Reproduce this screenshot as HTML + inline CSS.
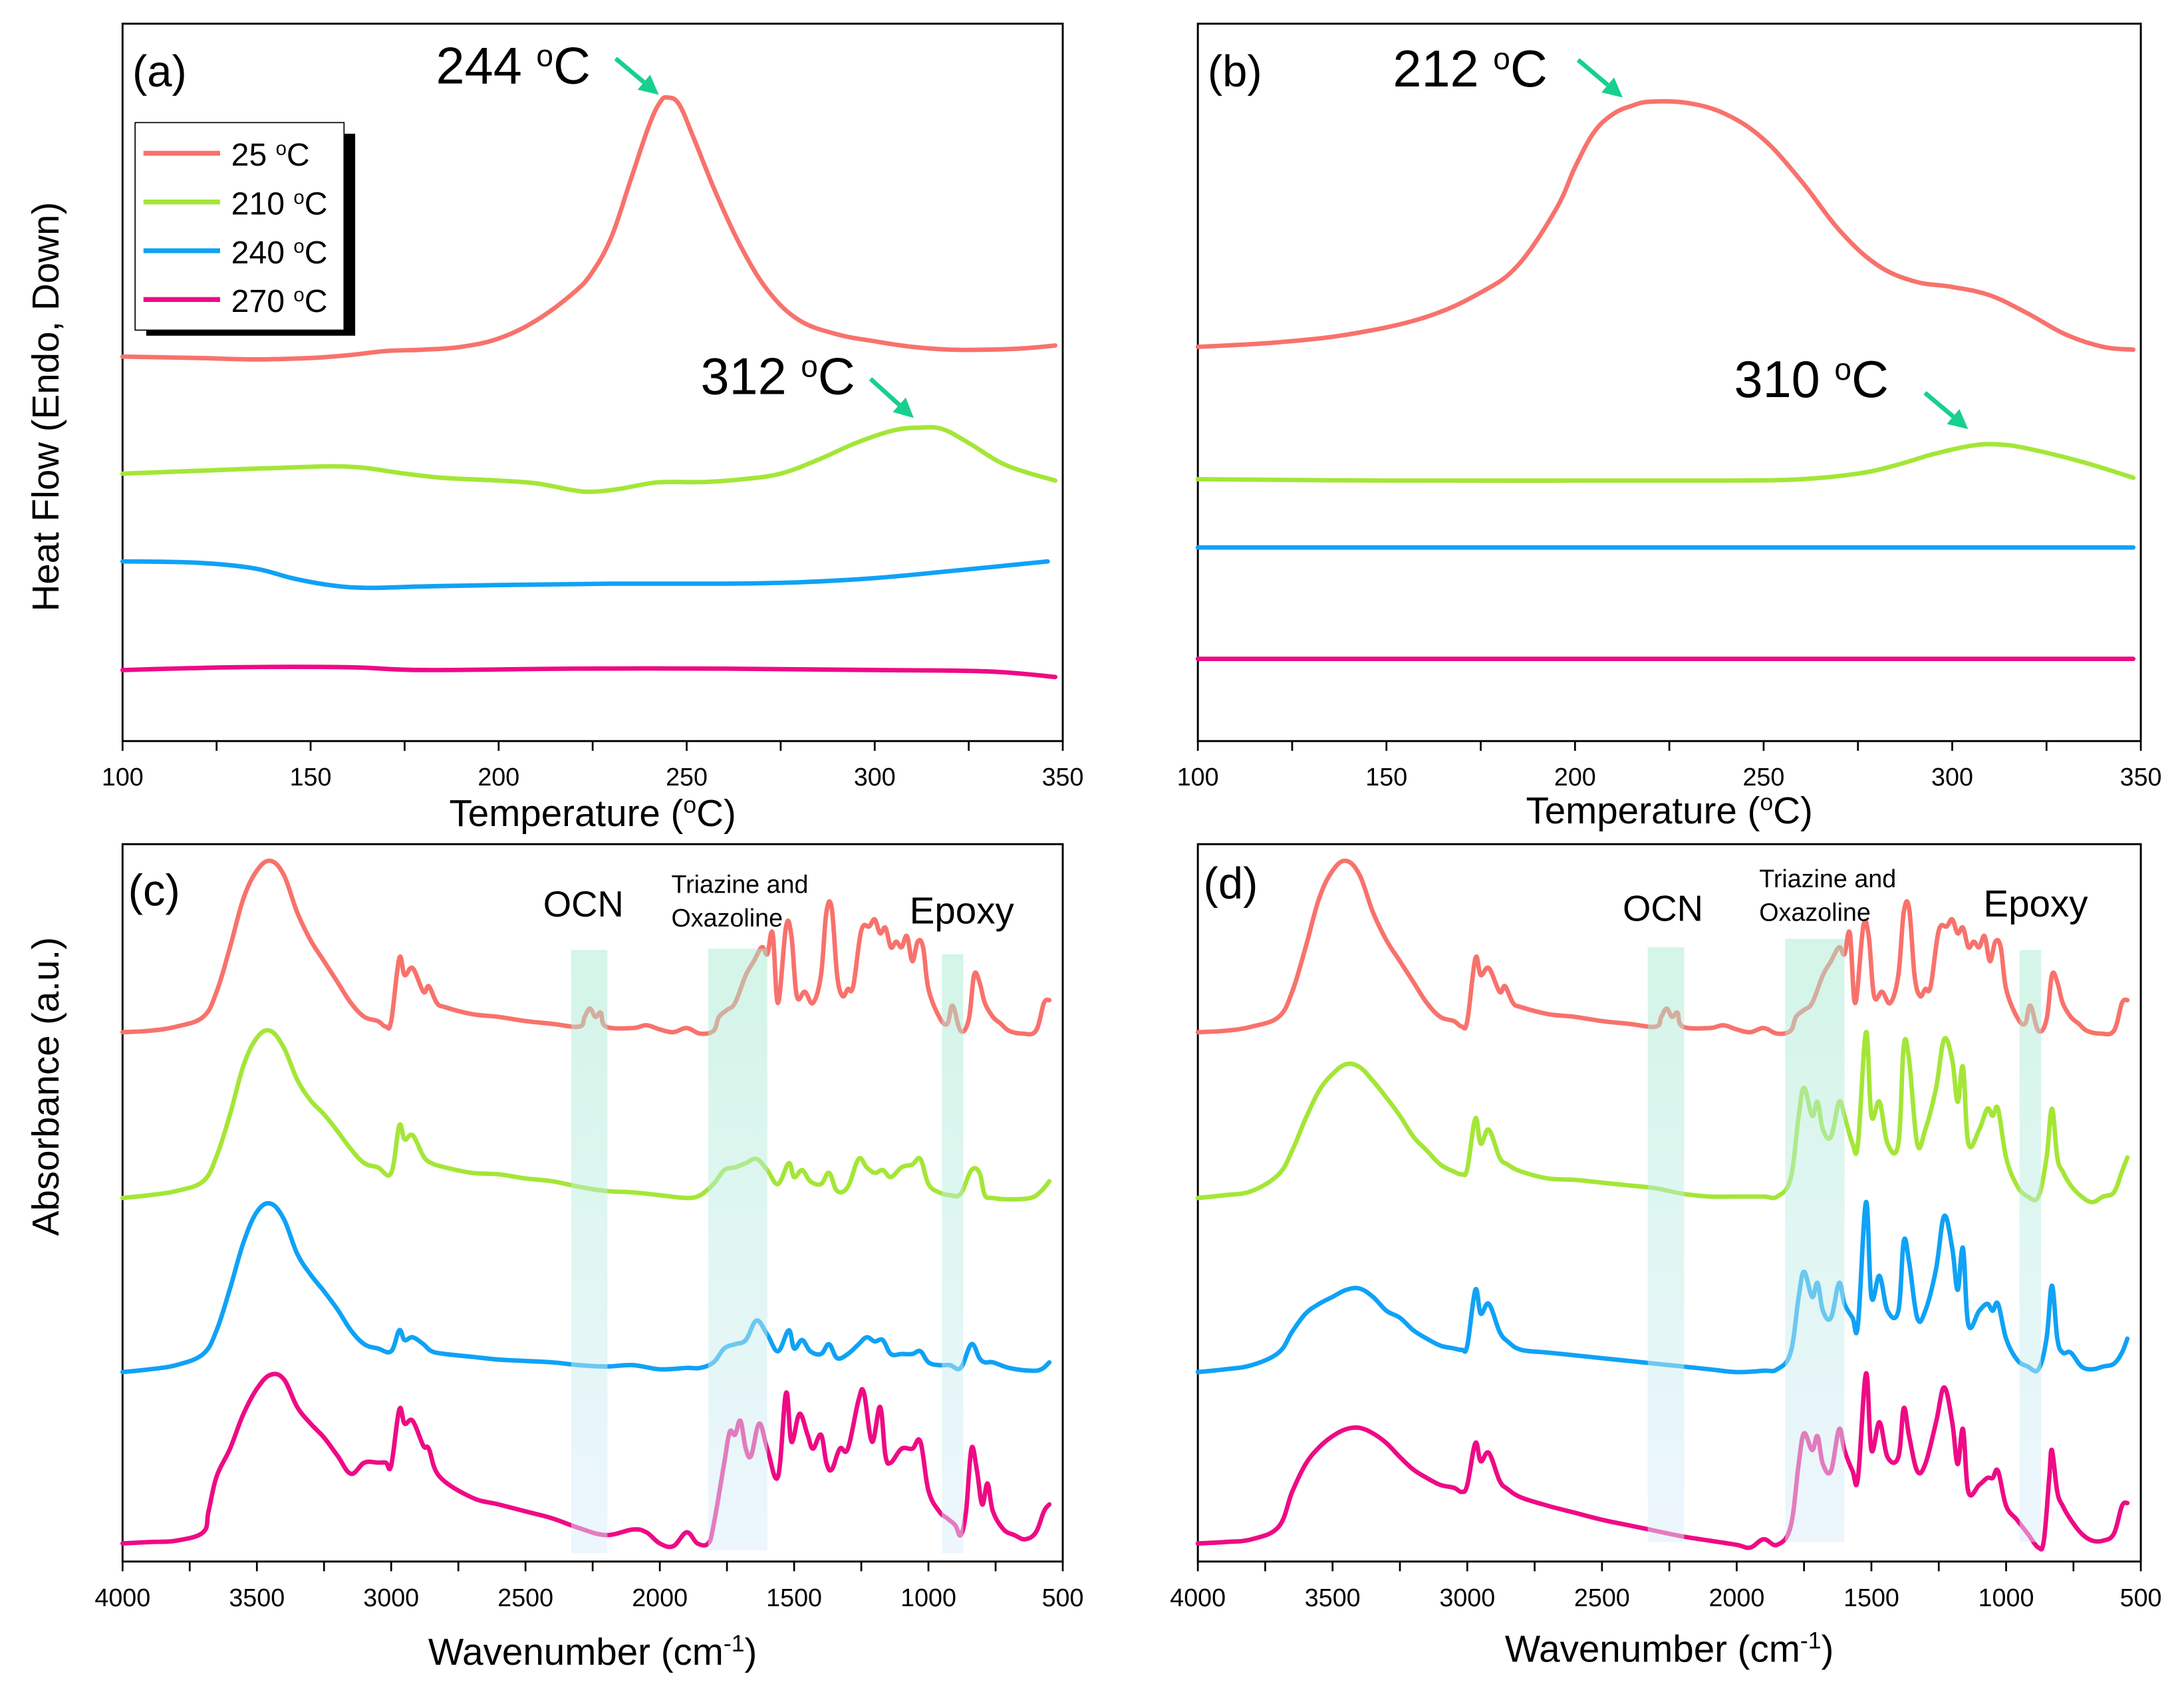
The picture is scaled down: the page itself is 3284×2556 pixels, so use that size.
<!DOCTYPE html>
<html><head><meta charset="utf-8">
<style>
html,body{margin:0;padding:0;background:#fff;}
svg{display:block;}
text{font-family:"Liberation Sans",sans-serif;fill:#000;}
.n{font-family:"Liberation Sans Narrow","Liberation Sans",sans-serif;}
</style></head>
<body>
<svg id="fig" width="3284" height="2556" viewBox="0 0 1568 1220.4" xmlns="http://www.w3.org/2000/svg">
<defs>
<linearGradient id="band" x1="0" y1="0" x2="0" y2="1">
<stop offset="0" stop-color="#a8ebd0"/><stop offset="1" stop-color="#dbeefc"/>
</linearGradient>
</defs>
</svg>
<script>
// ---------- DATA ----------
const dscTemp = [100,350];
const aRed = [[100,276],[120,275],[135,274],[150,275],[160,277],[170,280],[180,281],[190,283],[200,289],[210,302],[220,322],[225,337],[230,362],[235,402],[240,442],[243,459],[245,462],[248,457],[252,432],[258,392],[265,352],[272,322],[280,302],[290,292],[300,287],[310,283],[320,281],[330,281],[340,282],[348,284]];
const aGreen = [[100,192],[120,194],[140,196],[160,197],[175,192],[185,189],[200,187],[210,185],[220,180],[225,179],[232,181],[240,185],[245,186],[255,186],[265,188],[275,192],[285,202],[295,214],[305,223],[312,225],[318,224],[325,214],[335,198],[348,187]];
const aBlue = [[100,129],[120,128],[135,124],[145,117],[155,112],[165,110],[180,111],[200,112],[230,113],[260,113],[280,114],[300,117],[320,122],[335,126],[346,129]];
const aPink = [[100,51],[130,53],[160,53],[180,51],[220,52],[260,52],[300,51],[330,50],[348,46]];
const bRed = [[100,283],[120,286],[140,292],[160,304],[175,322],[185,342],[195,382],[200,412],[205,437],[210,450],[215,456],[220,459],[230,458],[240,450],[250,432],[260,402],[270,367],[280,342],[290,330],[300,326],[310,320],[320,307],[330,292],[340,283],[348,281]];
const bGreen = [[100,188],[150,187],[200,187],[240,187],[260,188],[275,192],[285,198],[295,206],[305,212],[312,213],[320,210],[335,200],[348,189]];
const bBlue = [[100,139],[200,139],[300,139],[348,139]];
const bPink = [[100,59],[200,59],[300,59],[348,59]];
const tempTicks = [100,150,200,250,300,350];

const cRed = [[4000,380],[3900,381],[3800,384],[3700,391],[3650,409],[3600,441],[3550,476],[3500,496],[3450,503],[3400,493],[3350,466],[3300,446],[3250,431],[3200,416],[3150,401],[3100,391],[3050,388],[3020,384],[3000,388],[2970,433],[2950,421],[2920,426],[2880,409],[2860,413],[2830,401],[2800,398],[2700,393],[2600,391],[2500,388],[2400,386],[2300,384],[2280,391],[2260,397],[2240,391],[2220,394],[2200,384],[2100,383],[2050,385],[2000,382],[1950,380],[1900,383],[1850,379],[1800,381],[1780,391],[1750,396],[1720,401],[1680,421],[1650,431],[1620,441],[1600,436],[1580,451],[1560,401],[1530,456],[1510,449],[1490,406],[1460,409],[1430,401],[1400,421],[1380,466],[1360,469],[1340,421],[1320,406],[1300,411],[1280,413],[1250,453],[1220,456],[1200,461],[1180,451],[1160,455],[1140,441],[1120,445],[1100,441],[1080,449],[1060,431],[1040,445],[1020,441],[1000,411],[960,391],[930,386],[910,399],[880,381],[850,389],[830,421],[810,416],[790,401],[760,391],[730,386],[700,381],[650,379],[600,381],[570,401],[550,403]];
const cGreen = [[4000,261],[3900,263],[3800,266],[3700,273],[3650,291],[3600,321],[3550,356],[3500,376],[3450,381],[3400,369],[3350,346],[3300,331],[3250,321],[3200,309],[3150,296],[3100,286],[3050,283],[3000,279],[2970,313],[2950,303],[2920,306],[2880,291],[2850,286],[2800,283],[2700,279],[2600,278],[2500,275],[2400,273],[2300,269],[2200,266],[2100,265],[2000,263],[1900,261],[1850,263],[1800,271],[1760,281],[1720,283],[1680,286],[1640,289],[1600,281],[1560,271],[1520,286],[1500,276],[1470,281],[1440,273],[1400,271],[1370,279],[1340,266],[1300,269],[1260,289],[1230,283],[1200,279],[1170,281],[1140,276],[1100,283],[1060,285],[1030,289],[1000,271],[960,265],[920,263],[880,264],[840,281],[810,279],[790,263],[760,261],[700,260],[620,261],[580,266],[550,273]];
const cBlue = [[4000,136],[3900,138],[3800,141],[3700,149],[3650,166],[3600,196],[3550,229],[3500,251],[3450,257],[3400,246],[3350,221],[3300,206],[3250,194],[3200,181],[3150,166],[3100,156],[3050,153],[3000,151],[2970,166],[2950,159],[2920,161],[2880,156],[2850,151],[2800,149],[2700,147],[2600,145],[2500,144],[2400,143],[2300,141],[2200,140],[2100,141],[2000,138],[1900,139],[1850,139],[1800,143],[1760,153],[1720,156],[1680,159],[1640,173],[1600,163],[1560,151],[1520,166],[1500,153],[1470,159],[1440,151],[1400,149],[1370,156],[1340,146],[1300,149],[1260,156],[1230,161],[1200,158],[1170,159],[1140,149],[1100,149],[1060,149],[1030,151],[1000,143],[960,141],[920,141],[880,139],[840,156],[810,146],[790,143],[760,143],[700,139],[620,137],[580,138],[550,143]];
const cPink = [[4000,13],[3900,14],[3800,15],[3700,21],[3680,36],[3650,61],[3600,81],[3550,106],[3500,124],[3450,134],[3400,131],[3350,111],[3300,99],[3250,89],[3200,76],[3150,63],[3100,71],[3050,71],[3020,71],[3000,69],[2970,109],[2950,99],[2920,101],[2880,83],[2860,81],[2820,61],[2700,46],[2600,41],[2500,36],[2400,31],[2300,24],[2200,19],[2100,23],[2050,21],[2000,13],[1950,11],[1900,21],[1860,13],[1820,13],[1800,26],[1760,71],[1740,93],[1720,91],[1700,101],[1680,81],[1660,76],[1630,99],[1600,81],[1560,61],[1530,121],[1510,86],[1480,106],[1450,91],[1430,81],[1400,91],[1380,71],[1360,66],[1330,81],[1300,81],[1260,116],[1240,121],[1210,86],[1180,111],[1160,76],[1140,71],[1100,81],[1060,81],[1030,86],[1000,51],[960,36],[930,31],[900,26],[880,19],[860,36],[840,81],[820,66],[800,41],[780,56],[760,36],[720,23],[680,19],[640,16],[600,21],[570,36],[550,41]];
const dRed = cRed;
const dGreen = [[4000,261],[3900,263],[3800,266],[3700,278],[3650,295],[3600,318],[3550,338],[3500,350],[3450,357],[3400,355],[3350,345],[3300,333],[3250,320],[3200,305],[3150,295],[3100,285],[3050,280],[3020,278],[3000,282],[2970,318],[2950,300],[2920,310],[2880,290],[2850,285],[2800,280],[2700,275],[2600,274],[2500,272],[2400,270],[2300,268],[2200,264],[2100,262],[2000,262],[1900,262],[1850,262],[1800,275],[1770,320],[1750,340],[1720,320],[1700,330],[1680,310],[1650,305],[1620,330],[1600,320],[1570,300],[1550,300],[1520,380],[1500,320],[1470,330],[1440,300],[1400,300],[1380,370],[1360,360],[1330,300],[1300,310],[1260,340],[1230,375],[1200,360],[1180,330],[1160,355],[1140,300],[1100,310],[1070,325],[1050,320],[1030,325],[1000,290],[960,270],[920,262],[880,262],[850,290],[830,325],[810,290],[790,280],[760,270],[720,262],[680,258],[640,262],[600,265],[570,280],[550,290]];
const dBlue = [[4000,136],[3900,138],[3800,141],[3700,150],[3650,165],[3600,178],[3550,185],[3500,190],[3450,195],[3400,196],[3350,190],[3300,180],[3250,175],[3200,166],[3150,160],[3100,155],[3050,153],[3020,152],[3000,155],[2970,195],[2950,178],[2920,185],[2880,165],[2850,158],[2800,152],[2700,150],[2600,148],[2500,146],[2400,144],[2300,142],[2200,140],[2100,138],[2000,136],[1900,137],[1850,138],[1800,150],[1770,190],[1750,208],[1720,190],[1700,200],[1680,180],[1650,175],[1620,200],[1600,185],[1570,175],[1550,170],[1520,258],[1500,190],[1470,205],[1440,180],[1400,180],[1380,230],[1360,215],[1330,175],[1300,180],[1260,210],[1230,248],[1200,225],[1180,195],[1160,225],[1140,170],[1100,180],[1070,185],[1050,180],[1030,185],[1000,160],[960,145],[920,140],[880,138],[850,160],[830,198],[810,160],[790,150],[760,150],[720,140],[680,138],[640,140],[600,142],[570,150],[550,160]];
const dPink = [[4000,13],[3900,14],[3800,16],[3700,25],[3650,50],[3600,70],[3550,82],[3500,90],[3450,95],[3400,96],[3350,92],[3300,85],[3250,75],[3200,66],[3150,60],[3100,55],[3050,53],[3020,50],[3000,55],[2970,85],[2950,72],[2920,78],[2880,58],[2850,52],[2800,46],[2700,40],[2600,35],[2500,30],[2400,26],[2300,22],[2200,18],[2100,15],[2000,12],[1950,10],[1900,16],[1850,12],[1800,25],[1770,70],[1750,92],[1720,80],[1700,90],[1680,70],[1650,65],[1620,95],[1600,80],[1570,65],[1550,60],[1520,135],[1500,80],[1470,100],[1440,75],[1400,75],[1380,110],[1360,90],[1330,65],[1300,70],[1260,100],[1230,125],[1200,100],[1180,70],[1160,95],[1140,50],[1100,55],[1070,60],[1050,60],[1030,65],[1000,40],[960,30],[920,20],[880,10],[860,15],[840,60],[830,80],[810,50],[790,40],[760,30],[720,20],[680,15],[640,15],[600,20],[570,40],[550,42]];
const waveTicks = [4000,3500,3000,2500,2000,1500,1000,500];
const bandOCN = [2330,2195];
const bandTri = [1820,1600];
const bandEpoxy = [950,870];
const legendLabels = ['25','210','240','270'];

const COLORS = ['#f8726c','#a4e637','#0fa2f6','#ee0a85'];
const NS = 'http://www.w3.org/2000/svg';
const svg = document.getElementById('fig');
function mk(tag, attrs, parent){ const e=document.createElementNS(NS,tag); for(const k in attrs) e.setAttribute(k,attrs[k]); (parent||svg).appendChild(e); return e; }

const panels = {
  a:{l:88,r:763,t:17,b:532,x0:100,x1:350,ymax:515},
  b:{l:860,r:1537,t:17,b:532,x0:100,x1:350,ymax:515},
  c:{l:88,r:763,t:606,b:1121,x0:4000,x1:500,ymax:515},
  d:{l:860,r:1537,t:606,b:1121,x0:4000,x1:500,ymax:515}
};
function xs(p,v){ return p.l + (v-p.x0)/(p.x1-p.x0)*(p.r-p.l); }
function ys(p,v){ return p.b - v/p.ymax*(p.b-p.t); }

function drawSeries(p, data, color, name){
  const pts = data.map(pt=>[xs(p,pt[0]), ys(p,pt[1])]);
  let d = 'M'+pts[0][0].toFixed(2)+','+pts[0][1].toFixed(2);
  const k = 0.18;
  for(let i=0;i<pts.length-1;i++){
    const p0=pts[Math.max(0,i-1)], p1=pts[i], p2=pts[i+1], p3=pts[Math.min(pts.length-1,i+2)];
    const c1x=p1[0]+(p2[0]-p0[0])*k, c1y=p1[1]+(p2[1]-p0[1])*k;
    const c2x=p2[0]-(p3[0]-p1[0])*k, c2y=p2[1]-(p3[1]-p1[1])*k;
    d += 'C'+c1x.toFixed(2)+','+c1y.toFixed(2)+' '+c2x.toFixed(2)+','+c2y.toFixed(2)+' '+p2[0].toFixed(2)+','+p2[1].toFixed(2);
  }
  const e = mk('path',{d:d,fill:'none',stroke:color,'stroke-width':3.2,'stroke-linejoin':'round','stroke-linecap':'round'});
  
  
}
function drawBand(p, band, top, bottom, name){
  const x1=xs(p,band[0]), x2=xs(p,band[1]);
  const e = mk('rect',{x:x1,y:top,width:x2-x1,height:bottom-top,fill:'url(#band)',opacity:0.5});
  
  
}
function drawAxes(p, key, ticks, minorStep, title, titleY, tickLabelY){
  const g = mk('g',{});
  
  
  const fr = mk('rect',{x:p.l,y:p.t,width:p.r-p.l,height:p.b-p.t,fill:'none',stroke:'#000','stroke-width':1.4},g);
  
  
  const lo=Math.min(p.x0,p.x1), hi=Math.max(p.x0,p.x1);
  for(let v=lo; v<=hi+0.001; v+=minorStep){
    const x=xs(p,v);
    mk('line',{x1:x,y1:p.b,x2:x,y2:p.b+7,stroke:'#000','stroke-width':1.3},g);
  }
  ticks.forEach(v=>{
    const t = mk('text',{x:xs(p,v),y:tickLabelY,'text-anchor':'middle','font-size':18,class:'n'},g);
    t.textContent = v;
    
    
  });
  const tt = mk('text',{x:(p.l+p.r)/2,y:titleY,'text-anchor':'middle','font-size':27},g);
  tt.innerHTML = title;
  
  
}
function label(x,y,size,txt,name,cls,len){
  const t = mk('text',{x:x,y:y,'font-size':size});
  if(cls) t.setAttribute('class',cls);
  if(len){ t.setAttribute('textLength',len); t.setAttribute('lengthAdjust','spacingAndGlyphs'); }
  t.innerHTML = txt;
  
  
  return t;
}
function arrow(x1,y1,x2,y2,name){
  const g = mk('g',{});
  
  
  const ang=Math.atan2(y2-y1,x2-x1), L=14, W=7;
  const bx=x2-L*Math.cos(ang), by=y2-L*Math.sin(ang);
  mk('line',{x1:x1,y1:y1,x2:bx,y2:by,stroke:'#17d08e','stroke-width':3.2},g);
  const px=-Math.sin(ang), py=Math.cos(ang);
  mk('polygon',{points:`${x2},${y2} ${bx+px*W},${by+py*W} ${bx-px*W},${by-py*W}`,fill:'#17d08e'},g);
}

const pa=panels.a, pb=panels.b, pc=panels.c, pd=panels.d;
const tT='Temperature (<tspan baseline-shift="super" font-size="17">o</tspan>C)';
drawAxes(pa,'a',tempTicks,25,tT,593,564);
drawAxes(pb,'b',tempTicks,25,tT,591,564);
[aRed,aGreen,aBlue,aPink].forEach((s,i)=>drawSeries(pa,s,COLORS[i],'dsc-a-'+legendLabels[i]+'C'));
[bRed,bGreen,bBlue,bPink].forEach((s,i)=>drawSeries(pb,s,COLORS[i],'dsc-b-'+legendLabels[i]+'C'));

const lg = mk('g',{});


mk('rect',{x:105,y:96,width:150,height:145,fill:'#000'},lg);
mk('rect',{x:97,y:88,width:150,height:149,fill:'#fff',stroke:'#000','stroke-width':0.8},lg);
legendLabels.forEach((l,i)=>{
  const y=110+i*35;
  const ln = mk('line',{x1:103,y1:y,x2:158,y2:y,stroke:COLORS[i],'stroke-width':3.5},lg);
  
  
  const t = mk('text',{x:166,y:y+9,'font-size':23,class:'n'},lg);
  t.innerHTML = l+' <tspan baseline-shift="super" font-size="14">o</tspan>C';
  
  
});

label(95,62,32,'(a)','panel-a-label');
label(867,62,32,'(b)','panel-b-label');
label(313,60,37,'244 <tspan baseline-shift="super" font-size="22">o</tspan>C','peak-244-label','n');
arrow(442,42,473,68,'peak-244-arrow');
label(503,283,37,'312 <tspan baseline-shift="super" font-size="22">o</tspan>C','peak-312-label','n');
arrow(625,272,656,300,'peak-312-arrow');
label(1000,62,37,'212 <tspan baseline-shift="super" font-size="22">o</tspan>C','peak-212-label','n');
arrow(1133,43,1165,70,'peak-212-arrow');
label(1245,285,37,'310 <tspan baseline-shift="super" font-size="22">o</tspan>C','peak-310-label','n');
arrow(1382,282,1413,308,'peak-310-arrow');

const yt1 = mk('text',{x:0,y:0,'font-size':27,'text-anchor':'middle',transform:'translate(42,292) rotate(-90)'});
yt1.textContent='Heat Flow (Endo, Down)';


const yt2 = mk('text',{x:0,y:0,'font-size':27,'text-anchor':'middle',transform:'translate(42,780) rotate(-90)'});
yt2.textContent='Absorbance (a.u.)';



const wt='Wavenumber (cm<tspan baseline-shift="super" font-size="17">-1</tspan>)';
drawAxes(pc,'c',waveTicks,250,wt,1195,1153);
drawAxes(pd,'d',waveTicks,250,wt,1193,1153);
[cRed,cGreen,cBlue,cPink].forEach((s,i)=>drawSeries(pc,s,COLORS[i],'ftir-c-'+legendLabels[i]+'C'));
[dRed,dGreen,dBlue,dPink].forEach((s,i)=>drawSeries(pd,s,COLORS[i],'ftir-d-'+legendLabels[i]+'C'));
drawBand(pc,bandOCN,682,1115,'band-ocn-c');
drawBand(pc,bandTri,681,1113,'band-triazine-c');
drawBand(pc,bandEpoxy,685,1115,'band-epoxy-c');
drawBand(pd,bandOCN,680,1107,'band-ocn-d');
drawBand(pd,bandTri,674,1107,'band-triazine-d');
drawBand(pd,bandEpoxy,682,1107,'band-epoxy-d');

label(92,650,32,'(c)','panel-c-label');
label(864,645,32,'(d)','panel-d-label');
label(390,658,26,'OCN','ocn-label');
label(482,641,18,'Triazine and','triazine-label','n');
label(482,665,18,'Oxazoline','oxazoline-label','n');
label(653,663,27,'Epoxy','epoxy-label');
label(1165,661,26,'OCN','ocn-label-d');
label(1263,637,18,'Triazine and','triazine-label-d');
label(1263,661,18,'Oxazoline','oxazoline-label-d');
label(1424,658,27,'Epoxy','epoxy-label-d');
</script>
</body></html>
